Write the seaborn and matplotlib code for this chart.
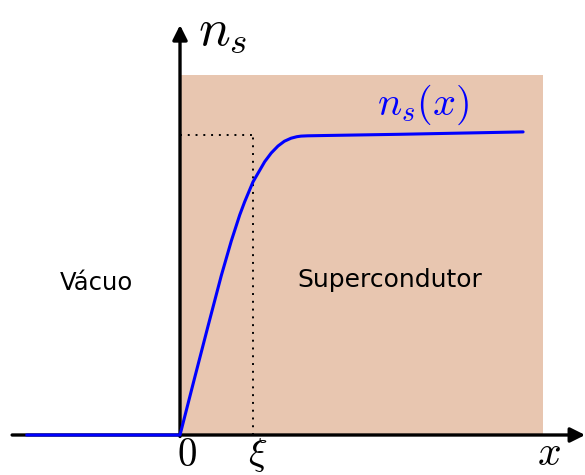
import matplotlib
matplotlib.use("Agg")
import matplotlib.pyplot as plt
from matplotlib.patches import Rectangle
import seaborn as sns
import pandas as pd

sns.set_style("white")
plt.rcParams["mathtext.fontset"] = "cm"
plt.rcParams["font.family"] = ["DejaVu Sans"]
plt.rcParams["text.color"] = "black"

# Superfluid density profile n_s(x) across a vacuum / superconductor interface
# (x in units of the coherence length xi, n_s normalised to its bulk value)
x_pos = [-2.10, 0.000, 0.192, 0.384, 0.566, 0.703, 0.818, 0.886, 1.000, 1.160,
         1.250, 1.342, 1.430, 1.521, 1.600, 1.658, 1.750, 1.986, 3.000, 4.700]
ns_val = [0.000, 0.000, 0.182, 0.362, 0.530, 0.645, 0.731, 0.775, 0.841, 0.908,
          0.937, 0.960, 0.976, 0.986, 0.991, 0.993, 0.994, 0.995, 0.999, 1.007]

xi = 1.0
ns_bulk = 0.997
region_right = 4.97
region_top = 1.196

df = pd.DataFrame({"x": x_pos, "ns": ns_val})

fig = plt.figure(figsize=(5.85, 4.75), dpi=100)
ax = fig.add_axes([0, 0, 1, 1])
ax.set_xlim(-2.466, 5.548)
ax.set_ylim(-0.1329, 1.4452)
ax.axis("off")

# superconducting region
ax.add_patch(Rectangle((0, 0), region_right, region_top, facecolor="#e8c6b0",
                       edgecolor="none", zorder=0))

# axes with arrows
ax.annotate("", xy=(5.55, 0), xytext=(-2.30, 0),
            arrowprops=dict(arrowstyle="-|>", color="black", lw=2.4,
                            mutation_scale=22, shrinkA=0, shrinkB=0), zorder=2)
ax.annotate("", xy=(0, 1.362), xytext=(0, -0.005),
            arrowprops=dict(arrowstyle="-|>", color="black", lw=2.4,
                            mutation_scale=22, shrinkA=0, shrinkB=0), zorder=2)

# dotted guides at xi and bulk density
ax.plot([0, xi], [ns_bulk, ns_bulk], color="black", ls=(0, (1, 3)), lw=1.4, zorder=1)
ax.plot([xi, xi], [0, ns_bulk], color="black", ls=(0, (1, 3)), lw=1.4, zorder=1)

sns.lineplot(data=df, x="x", y="ns", ax=ax, color="#0000ff", lw=2.2,
             sort=False, zorder=3)

ax.text(0.09, -0.065, r"$0$", fontsize=28, ha="center", va="center")
ax.text(xi + 0.07, -0.068, r"$\xi$", fontsize=28, ha="center", va="center")
ax.text(5.05, -0.06, r"$x$", fontsize=30, ha="center", va="center")
ax.text(0.58, 1.345, r"$n_s$", fontsize=38, ha="center", va="center")
ax.text(3.33, 1.097, r"$n_s(x)$", fontsize=29, ha="center", va="center", color="#0000ff")

ax.text(-1.15, 0.505, "Vácuo", fontsize=17.5, ha="center", va="center")
ax.text(2.88, 0.515, "Supercondutor", fontsize=18, ha="center", va="center")

fig.savefig("out.png", dpi=100)
